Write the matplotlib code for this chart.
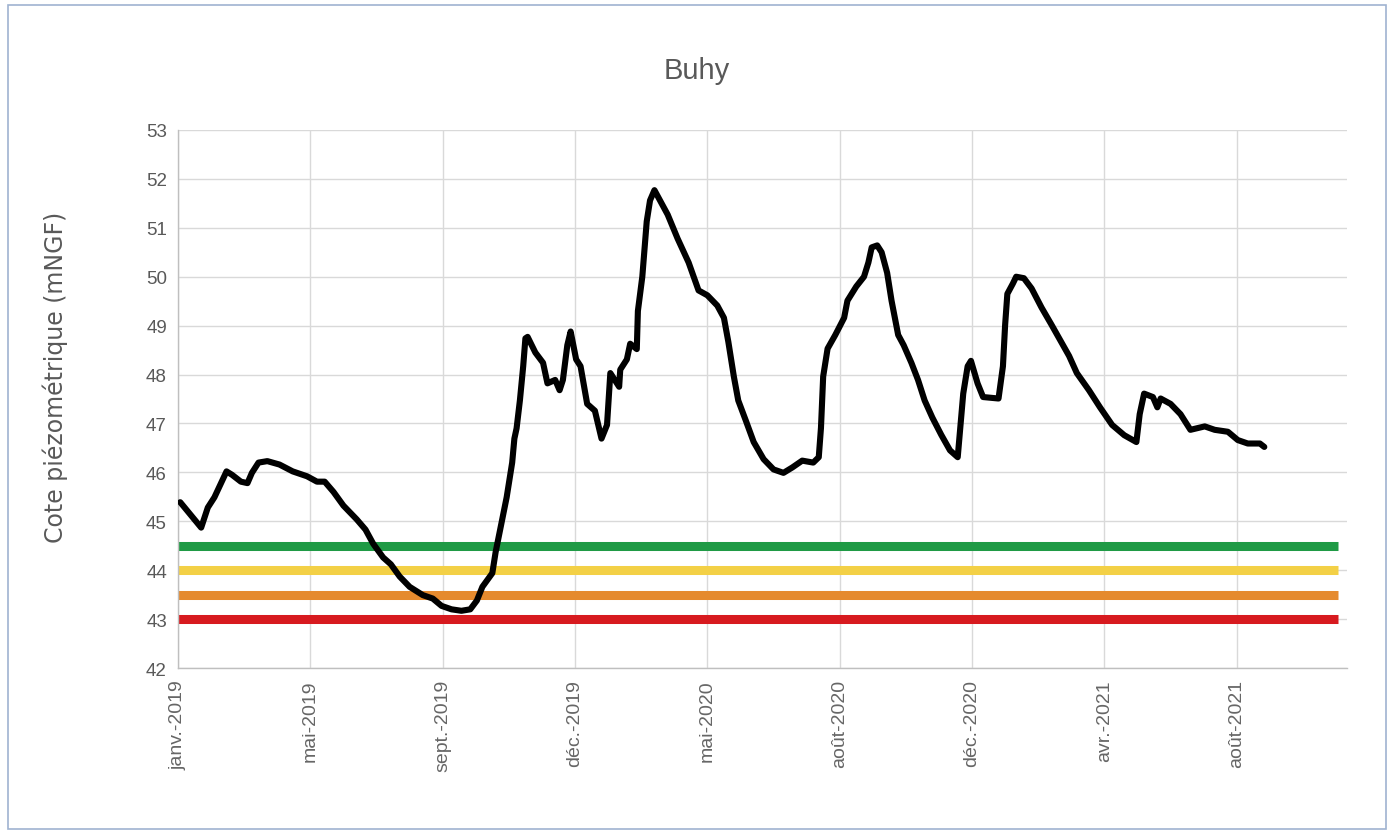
import matplotlib
matplotlib.use("Agg")
import matplotlib.pyplot as plt
from matplotlib.patches import Rectangle

# ---- data (x = days from start of axis, y = piezometric level in mNGF) ----
days = [2, 21, 27, 33, 39, 44, 49, 57, 63, 67, 73, 81, 92, 104, 117, 126, 133,
        141, 150, 162, 170, 177, 186, 193, 201, 210, 222, 231, 239, 248, 257,
        265, 271, 276, 285, 288, 293, 298, 303, 305, 307, 310, 313, 315, 317,
        324, 331, 335, 342, 346, 349, 353, 356, 361, 365, 371, 378, 384, 389,
        392, 400, 401, 407, 410, 416, 417, 421, 425, 428, 432, 437, 444, 453,
        463, 472, 480, 489, 495, 499, 504, 508, 515, 522, 531, 540, 549, 557,
        566, 576, 581, 583, 585, 589, 596, 604, 607, 615, 622, 626, 629, 634,
        638, 643, 647, 653, 658, 665, 671, 677, 684, 692, 700, 707, 709, 712,
        716, 719, 725, 730, 744, 748, 750, 752, 757, 760, 767, 774, 783, 792,
        799, 808, 815, 826, 836, 847, 858, 869, 872, 876, 884, 888, 891, 900,
        909, 918, 931, 940, 952, 961, 970, 981, 985]
level = [45.39, 44.87, 45.28, 45.49, 45.78, 46.02, 45.95, 45.81, 45.78, 45.99,
         46.20, 46.23, 46.16, 46.02, 45.92, 45.81, 45.81, 45.60, 45.32, 45.04,
         44.83, 44.54, 44.26, 44.12, 43.87, 43.66, 43.49, 43.42, 43.27, 43.20,
         43.17, 43.20, 43.38, 43.66, 43.94, 44.37, 44.93, 45.49, 46.20, 46.69,
         46.90, 47.47, 48.17, 48.74, 48.77, 48.45, 48.24, 47.82, 47.89, 47.68,
         47.89, 48.60, 48.88, 48.31, 48.17, 47.40, 47.26, 46.69, 46.97, 48.03,
         47.75, 48.10, 48.31, 48.63, 48.52, 49.30, 50.00, 51.13, 51.56, 51.77,
         51.56, 51.27, 50.78, 50.29, 49.72, 49.62, 49.41, 49.16, 48.67, 47.96,
         47.47, 47.05, 46.62, 46.27, 46.06, 45.99, 46.10, 46.24, 46.20, 46.31,
         46.91, 47.96, 48.53, 48.81, 49.16, 49.51, 49.80, 50.00, 50.29, 50.60,
         50.64, 50.50, 50.08, 49.51, 48.81, 48.60, 48.24, 47.89, 47.47, 47.12,
         46.77, 46.45, 46.31, 46.83, 47.61, 48.17, 48.28, 47.82, 47.54, 47.51,
         48.17, 49.02, 49.65, 49.86, 50.00, 49.97, 49.76, 49.37, 49.02, 48.74,
         48.38, 48.03, 47.68, 47.33, 46.97, 46.76, 46.62, 47.19, 47.61, 47.54,
         47.33, 47.51, 47.40, 47.19, 46.87, 46.94, 46.87, 46.83, 46.66, 46.59,
         46.59, 46.52]

thresholds = [44.5, 44.0, 43.5, 43.0]
threshold_colors = ["#1f9a45", "#f3d046", "#e58a2e", "#d71a1f"]
threshold_span = [0, 1052]

tick_days = [0, 120, 240, 360, 480, 600, 720, 840, 960]
tick_labels = ["janv.-2019", "mai-2019", "sept.-2019", "déc.-2019", "mai-2020",
               "août-2020", "déc.-2020", "avr.-2021", "août-2021"]
y_ticks = list(range(42, 54))

# ---- figure ----
plt.rcParams['font.family'] = ['Liberation Sans', 'DejaVu Sans']
fig = plt.figure(figsize=(13.94, 8.37), dpi=100)
fig.patch.set_facecolor("white")
fig.add_artist(Rectangle((0.006, 0.008), 0.988, 0.985, transform=fig.transFigure,
                         fill=False, edgecolor="#9fb3d1", linewidth=1.2))

ax = fig.add_axes([0.1277, 0.2007, 0.8386, 0.6428])

for val, col in zip(thresholds, threshold_colors):
    ax.plot(threshold_span, [val, val], color=col, linewidth=6.5,
            solid_capstyle="butt", zorder=2)

ax.plot(days, level, color="black", linewidth=4.4, solid_joinstyle="round",
        solid_capstyle="round", zorder=3)

ax.set_xlim(0, 1060)
ax.set_ylim(42, 53)
ax.set_xticks(tick_days)
ax.set_xticklabels(tick_labels, rotation=90, fontsize=14, color="#666666")
ax.set_yticks(y_ticks)
ax.set_yticklabels([str(v) for v in y_ticks], fontsize=13.5, color="#595959")
ax.tick_params(axis="both", length=0, pad=8)
ax.tick_params(axis="y", pad=8)

ax.grid(True, color="#d9d9d9", linewidth=1.0, zorder=0)
ax.set_axisbelow(True)
for side in ["top", "right"]:
    ax.spines[side].set_visible(False)
for side in ["left", "bottom"]:
    ax.spines[side].set_color("#bfbfbf")
    ax.spines[side].set_linewidth(1.0)

ax.set_ylabel("Cote piézométrique (mNGF)", fontsize=17, color="#595959",
              family=["DejaVu Sans"])
ax.yaxis.set_label_coords(-0.094, 0.542)
fig.text(0.5, 0.915, "Buhy", ha="center", va="center", fontsize=21,
         color="#595959")

fig.savefig("out.png", dpi=100, facecolor="white")
